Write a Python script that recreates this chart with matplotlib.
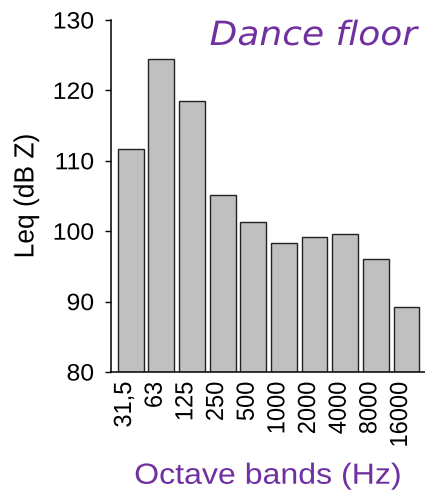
import matplotlib
matplotlib.use("Agg")
import matplotlib.pyplot as plt
from matplotlib.patheffects import AbstractPathEffect
from matplotlib.transforms import Affine2D, ScaledTranslation

# =========================
# DATA
# =========================
bands = ["31,5", "63", "125", "250", "500", "1000", "2000", "4000", "8000", "16000"]
leq = [111.7, 124.5, 118.5, 105.2, 101.3, 98.3, 99.2, 99.6, 96.1, 89.2]

PURPLE = "#7030a0"


class StretchX(AbstractPathEffect):
    # widen text horizontally around its left / center / right edge
    def __init__(self, sx=1.05, anchor="center"):
        super().__init__()
        self.sx = sx
        self.anchor = anchor

    def draw_path(self, renderer, gc, tpath, affine, rgbFace=None):
        ext = tpath.get_extents(affine)
        if self.anchor == "right":
            px = ext.x1
        elif self.anchor == "left":
            px = ext.x0
        else:
            px = (ext.x0 + ext.x1) / 2
        st = Affine2D().translate(-px, 0).scale(self.sx, 1).translate(px, 0)
        renderer.draw_path(gc, tpath, affine + st, rgbFace)


plt.rcParams["font.family"] = ["Liberation Sans", "DejaVu Sans"]

fig = plt.figure(figsize=(4.25, 4.91), dpi=100)
ax = fig.add_axes([0.2605, 0.2424, 0.7395, 0.7169])

x = list(range(len(bands)))
ax.bar(x, leq, width=0.84, color="#c0c0c0", edgecolor="#222222", linewidth=1.0)

ax.set_ylim(80, 130)
ax.set_yticks([80, 90, 100, 110, 120, 130])
ax.set_xlim(-0.65, 9.6)
ax.set_xticks(x)
ax.set_xticklabels(bands, rotation=90, fontsize=17)
ax.tick_params(axis="y", labelsize=17, length=4, width=1.0, pad=8)
ax.tick_params(axis="x", length=0, pad=7)

for s in ["top", "right"]:
    ax.spines[s].set_visible(False)
for s in ["left", "bottom"]:
    ax.spines[s].set_linewidth(1.1)

ax.set_ylabel("Leq (dB Z)", fontsize=19)
ax.yaxis.set_label_coords(-0.231, 0.5)
ax.set_xlabel("Octave bands (Hz)", fontsize=21, color=PURPLE)
ax.xaxis.set_label_coords(0.5, -0.255)

title = ax.text(9.355, 126.45, "Dance floor", ha="right", va="baseline",
                fontsize=24, color=PURPLE, style="italic", family="DejaVu Sans")

# x labels sit a little left of the bar centres in the reference
shift = ScaledTranslation(-6 / 100, 0, fig.dpi_scale_trans)
for lbl in ax.get_xticklabels():
    lbl.set_transform(lbl.get_transform() + shift)

# stretch texts
for lbl in ax.get_yticklabels():
    lbl.set_path_effects([StretchX(anchor="right")])
for lbl in ax.get_xticklabels():
    lbl.set_path_effects([StretchX(anchor="center")])
ax.yaxis.label.set_path_effects([StretchX(anchor="center")])
ax.xaxis.label.set_path_effects([StretchX(sx=1.1, anchor="center")])
title.set_path_effects([StretchX(sx=1.08, anchor="right")])

fig.savefig("out.png", dpi=100)
